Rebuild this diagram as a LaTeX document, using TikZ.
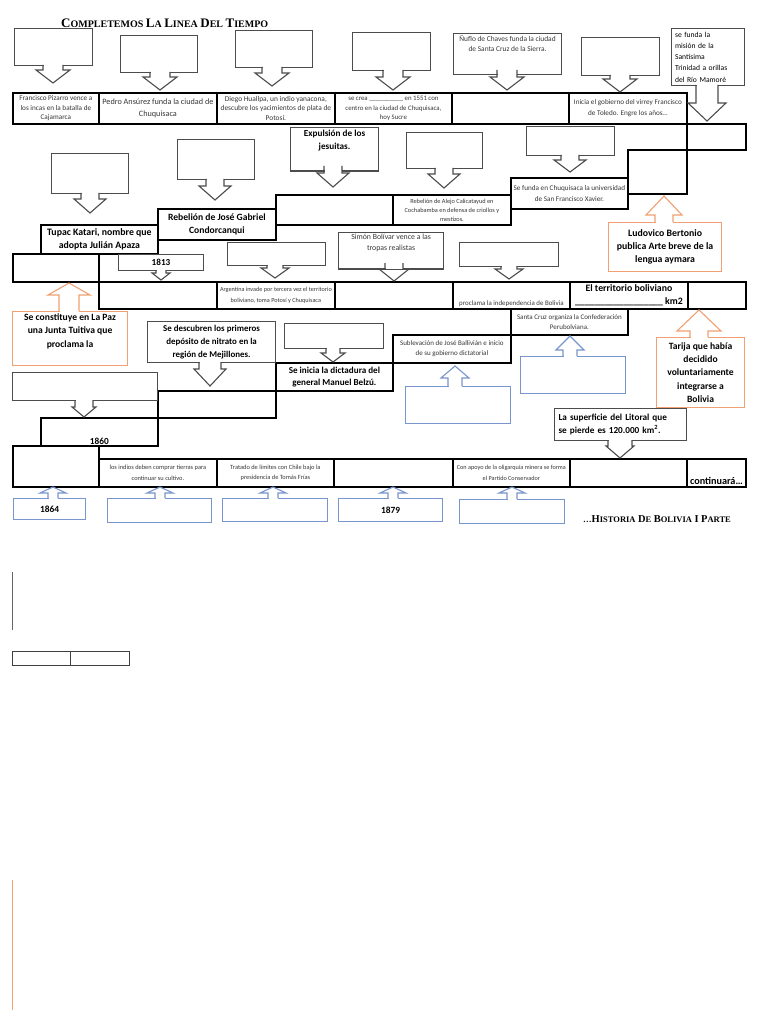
\documentclass[tikz,border=0pt]{standalone}
\usepackage{fontspec}
\setmainfont{Carlito}
\newfontfamily\seriffont{Liberation Serif}
\definecolor{bluec}{RGB}{120,150,205}
\definecolor{orangec}{RGB}{240,160,115}
\definecolor{txtgray}{RGB}{55,55,55}
\newcommand\setarr[3]{\def\aSW{#1}\def\aHW{#2}\def\aHL{#3}}
\setarr{10}{17}{13}
% cell: [opts]{name}{x1}{y1}{x2}{y2}{text}
\newcommand\cell[7][]{\node[cellst,#1,anchor=north west,minimum width={(#5-#3)*1pt},minimum height={(#6-#4)*1pt}] (#2) at (#3,#4) {#7};}
% down callout: {style}{name}{x1}{y1}{x2}{y2}{tipx}{tipy}{text}
\newcommand\dcall[9]{%
 \node[#1,anchor=north west,minimum width={(#5-#3)*1pt},minimum height={(#6-#4)*1pt}] (#2) at (#3,#4) {#9};
 \fill[white] ({#7-\aSW+0.5},{#6-1.2}) rectangle ({#7+\aSW-0.5},{#8-\aHL});
 \draw[#1] ({#7-\aSW},#6) -- ({#7-\aSW},{#8-\aHL}) -- ({#7-\aHW},{#8-\aHL}) -- (#7,#8) -- ({#7+\aHW},{#8-\aHL}) -- ({#7+\aSW},{#8-\aHL}) -- ({#7+\aSW},#6);}
% up callout
\newcommand\ucall[9]{%
 \node[#1,anchor=north west,minimum width={(#5-#3)*1pt},minimum height={(#6-#4)*1pt}] (#2) at (#3,#4) {#9};
 \fill[white] ({#7-\aSW+0.5},{#4+1.2}) rectangle ({#7+\aSW-0.5},{#8+\aHL});
 \draw[#1] ({#7-\aSW},#4) -- ({#7-\aSW},{#8+\aHL}) -- ({#7-\aHW},{#8+\aHL}) -- (#7,#8) -- ({#7+\aHW},{#8+\aHL}) -- ({#7+\aSW},{#8+\aHL}) -- ({#7+\aSW},#4);}
\newcommand\fsc[4]{{\fontsize{#1}{#1}\selectfont #3\fontsize{#2}{#2}\selectfont #4}}
\tikzset{
 cellst/.style={draw=black, line width=1.8pt, inner sep=0.5pt, align=center, text=txtgray},
 gcall/.style={draw=black!70, line width=1.1pt, inner sep=2pt, align=center},
 bcall/.style={draw=bluec, line width=1.1pt, inner sep=2pt, align=center},
 ocall/.style={draw=orangec, line width=1.1pt, inner sep=2pt, align=center},
 bt/.style={font=\bfseries\fontsize{9.5}{12.5}\selectfont, text=black},
 fs/.style args={#1/#2}{font=\fontsize{#1}{#2}\selectfont},
 bs/.style args={#1/#2}{font=\bfseries\fontsize{#1}{#2}\selectfont, text=black},
}
\begin{document}
\begin{tikzpicture}[x=1pt,y=-1pt]
\fill[white] (0,0) rectangle (768,1024);
\useasboundingbox (0,0) rectangle (768,1024);

% title
\node[anchor=base west, inner sep=0] (title) at (61,28) {\seriffont\bfseries \fsc{13}{10}{C}{OMPLETEMOS} \fsc{13}{10}{L}{A} \fsc{13}{10}{L}{INEA} \fsc{13}{10}{D}{EL} \fsc{13}{10}{T}{IEMPO}};

% ---- row 1 strip
\cell[fs=7.2/9.6]{c11}{12}{92}{98}{123}{Francisco Pizarro vence a\\ los incas en la batalla de\\ Cajamarca}
\cell[fs=8.2/12.5]{c12}{98}{92}{216}{123}{Pedro Ansúrez funda la ciudad de\\ Chuquisaca}
\cell[fs=7.4/9.6]{c13}{216}{92}{334}{123}{Diego Huallpa, un indio yanacona,\\ descubre los yacimientos de plata de\\ Potosí.}
\cell[fs=6.8/9.6]{c14}{334}{92}{451}{123}{se crea \_\_\_\_\_\_\_\_\_\_ en 1551 con\\ centro en la ciudad de Chuquisaca,\\ hoy Sucre}
\cell{c15}{451}{92}{568}{123}{}
\cell[fs=7.2/11]{c16}{568}{92}{686}{123}{Inicia el gobierno del virrey Francisco\\ de Toledo. Engre los años…}

% ---- row 2 steps
\cell{s1}{686}{123}{745}{149}{}
\cell{s2}{627}{149}{686}{193}{}
\cell[fs=7.2/11]{s3}{510}{177}{627}{208}{Se funda en Chuquisaca la universidad\\ de San Francisco Xavier.}
\cell[fs=6.3/9]{s4}{392}{194}{510}{224}{Rebelión de Alejo Calicatayud en\\ Cochabamba en defensa de criollos y\\ mestizos.}
\cell{s5}{275}{194}{392}{224}{}
\cell[bs=9.6/12.5]{s6}{157}{208}{275}{239}{Rebelión de José Gabriel\\ Condorcanqui}
\cell[bs=9.8/12.5]{s7}{40}{224}{157}{253}{Tupac Katari, nombre que\\ adopta Julián Apaza}

% ---- row 3 strip
\cell{r3a}{12}{253}{98}{281}{}
\cell{c31}{98}{281}{216}{308}{}
\cell[fs=6.2/10.5]{c32}{216}{281}{334}{308}{Argentina invade por tercera vez el territorio\\ boliviano, toma Potosí y Chuquisaca}
\cell{c33}{334}{281}{452}{308}{}
\cell{c34}{452}{281}{569}{308}{}
\node[anchor=south, yshift=1.5pt, font=\fontsize{6.9}{8}\selectfont, text=txtgray, inner sep=1pt] (t34) at (c34.south) {proclama la independencia de Bolivia};
\cell[bs=9.8/13]{c35}{569}{281}{687}{308}{El territorio boliviano\\ \_\_\_\_\_\_\_\_\_\_\_\_\_\_\_\_\_\_ km2}
\cell{c36}{687}{281}{745}{308}{}

% ---- row 4 steps
\cell[fs=7/10.5]{d1}{510}{308}{627}{334}{Santa Cruz organiza la Confederación\\ Perubolviana.}
\cell[fs=7/10.5]{d2}{392}{334}{510}{362}{Sublevación de José Ballivián e inicio\\ de su gobierno dictatorial}
\cell[bs=9.1/12.5]{d3}{275}{362}{392}{390}{Se inicia la dictadura del\\ general Manuel Belzú.}
\cell{d4}{157}{390}{275}{417}{}
\cell{d5}{40}{417}{157}{445}{}
\node[anchor=south, yshift=1.5pt, font=\bfseries\fontsize{9.3}{10}\selectfont, inner sep=1pt] (t5) at (d5.south) {1860};

% ---- row 5 strip
\cell{r5a}{12}{445}{98}{486}{}
\cell[fs=6.4/10.5]{c51}{98}{458}{216}{486}{los indios deben comprar tierras para\\ continuar su cultivo.}
\cell[fs=6.4/10.5]{c52}{216}{458}{333}{486}{Tratado de límites con Chile bajo la\\ presidencia de Tomás Frías}
\cell{c53}{333}{458}{452}{486}{}
\cell[fs=6.2/10.5]{c54}{452}{458}{569}{486}{Con apoyo de la oligarquía minera se forma\\ el Partido Conservador}
\cell{c55}{569}{458}{686}{486}{}
\cell{c56}{686}{458}{745}{486}{}
\node[anchor=south, yshift=2pt, font=\bfseries\fontsize{10.2}{10}\selectfont, inner sep=1pt] (t56) at (c56.south) {continuará…};

% ---- row 1 callouts
\setarr{10}{17}{13}
\dcall{gcall}{k1}{14}{28}{92}{65}{53}{83}{}
\dcall{gcall}{k2}{120}{35}{197}{72}{160}{90}{}
\dcall{gcall}{k3}{235}{30}{312}{67}{272}{86}{}
\dcall{gcall}{k4}{352}{32}{430}{70}{393}{90}{}
\dcall{gcall,font=\fontsize{7.4}{10.5}\selectfont,text=txtgray}{k5}{453}{33}{561}{70}{507}{90}{Ñuflo de Chaves funda la ciudad\\ de Santa Cruz de la Sierra.\\[10pt]}
\dcall{gcall}{k6}{581}{37}{659}{75}{620}{92}{}
\setarr{11}{19}{18}
\dcall{gcall,align=left,text width=66pt,font=\fontsize{7.6}{11.2}\selectfont}{k7}{671}{28}{744}{85}{707}{121}{se funda la\\ misión de la\\ Santísima\\ Trinidad a orillas\\ del Río Mamoré}

% ---- row 2 callouts
\setarr{9}{16}{14}
\dcall{gcall}{k8}{51}{153}{128}{193}{90}{213}{}
\dcall{gcall}{k9}{177}{139}{254}{179}{215}{200}{}
\dcall{gcall,bs=9.2/13}{k10}{290}{127}{378}{166}{333}{187}{Expulsión de los\\ jesuitas.\\[7pt]}
\dcall{gcall}{k11}{406}{132}{482}{168}{444}{188}{}
\setarr{9}{16}{12}
\dcall{gcall}{k12}{526}{126}{614}{155}{570}{172}{}

% ---- row 3 callouts
\setarr{5}{9}{7}
\dcall{gcall,bs=9.2/10,inner sep=0pt}{k13}{118}{254}{203}{270}{161}{280}{1813}
\setarr{8}{14}{10}
\dcall{gcall}{k14}{227}{242}{325}{265}{275}{278}{}
\setarr{9}{15}{12}
\dcall{gcall,font=\fontsize{7.8}{11}\selectfont,text=txtgray}{k15}{338}{232}{443}{263}{394}{281}{Simón Bolívar vence a las\\ tropas realistas\\[5pt]}
\setarr{8}{14}{10}
\dcall{gcall}{k16}{459}{242}{558}{266}{509}{279}{}

% ---- row 4 callouts
\setarr{11}{16}{17}
\dcall{gcall,bs=8.9/12.8}{k17}{147}{321}{275}{362}{210}{386}{Se descubren los primeros\\ depósito de nitrato en la\\ región de Mejillones.}
\setarr{7}{12}{9}
\dcall{gcall}{k18}{284}{323}{383}{348}{333}{362}{}
\setarr{9}{12}{10}
\dcall{gcall}{k19}{12}{372}{157}{400}{84}{417}{}
\setarr{12}{14}{12}
\dcall{gcall,bs=9.2/13.5,align=left,text width=124pt}{k20}{554}{408}{686}{440}{620}{458}{La superficie del Litoral que\\ se pierde es 120.000 km\textsuperscript{2}.}

% ---- orange callouts
\setarr{9}{18}{19}
\ucall{ocall,bs=9.8/13}{o1}{608}{222}{721}{271}{664}{196}{Ludovico Bertonio\\ publica Arte breve de la\\ lengua aymara}
\setarr{9}{22}{21}
\ucall{ocall,bs=9.6/13.2}{o2}{656}{337}{744}{407}{699}{310}{Tarija que había\\ decidido\\ voluntariamente\\ integrarse a\\ Bolivia}
\setarr{10}{21}{12}
\ucall{ocall,bs=9.6/13.5}{o3}{12}{311}{127}{364}{69}{283}{Se constituye en La Paz\\ una Junta Tuitiva que\\ proclama la\\[3pt]}

% ---- blue callouts
\setarr{7}{14}{12}
\ucall{bcall}{b1}{405}{386}{510}{423}{455}{366}{}
\setarr{7}{14}{14}
\ucall{bcall}{b2}{520}{356}{625}{393}{570}{336}{}
\setarr{5}{13}{6}
\ucall{bcall,bs=9.4/10}{b3}{13}{498}{85}{519}{53}{487}{1864}
\ucall{bcall}{b4}{107}{498}{211}{522}{160}{487}{}
\ucall{bcall}{b5}{222}{498}{327}{521}{273}{487}{}
\ucall{bcall,bs=9.4/10}{b6}{338}{498}{442}{521}{393}{487}{1879}
\ucall{bcall}{b7}{459}{499}{564}{523}{512}{487}{}

% footer
\node[anchor=base west, inner sep=0] (foot) at (583,522) {\seriffont\bfseries{\fontsize{8.5}{9}\selectfont …}\fsc{10.5}{8.5}{H}{ISTORIA} \fsc{10.5}{8.5}{D}{E} \fsc{10.5}{8.5}{B}{OLIVIA} \fsc{10.5}{8.5}{I}{} \fsc{10.5}{8.5}{P}{ARTE}};

% stray marks at the bottom
\coordinate (v1) at (12,572); \coordinate (v2) at (12,630);
\draw[black!60, line width=0.9pt] (v1) -- (v2);
\node[draw=black!75, line width=1pt, anchor=north west, minimum width=58pt, minimum height=14pt, inner sep=0] (tb1) at (12,651) {};
\node[draw=black!75, line width=1pt, anchor=north west, minimum width=59pt, minimum height=14pt, inner sep=0] (tb2) at (70,651) {};
\coordinate (w1) at (12,880); \coordinate (w2) at (12,1010);
\draw[orangec, line width=0.8pt] (w1) -- (w2);
\end{tikzpicture}
\end{document}
